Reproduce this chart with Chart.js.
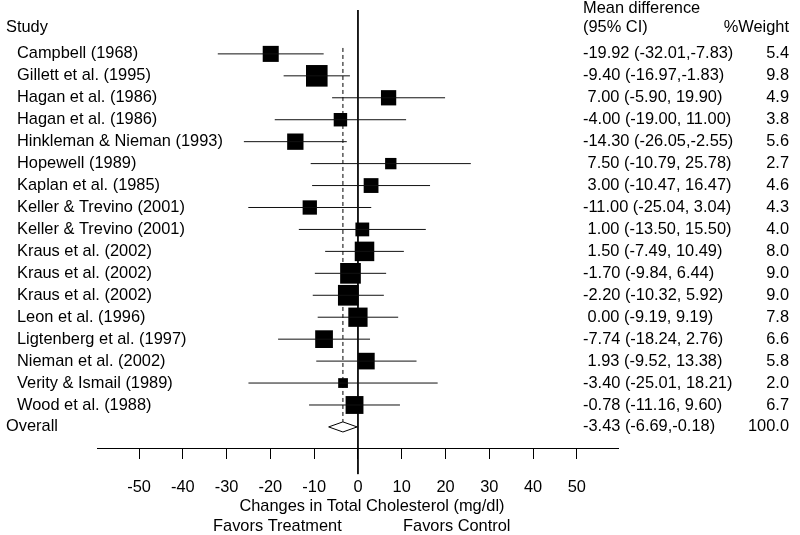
<!DOCTYPE html>
<html>
<head>
<meta charset="utf-8">
<script src="https://cdn.jsdelivr.net/npm/chart.js@4.4.1/dist/chart.umd.min.js"></script>
<style>
html,body{margin:0;padding:0;background:#fff;}
#wrap{width:800px;height:535px;position:relative;}
</style>
</head>
<body>
<div id="wrap"><canvas id="c" width="800" height="535"></canvas></div>
<script>
const studies = ["Campbell (1968)","Gillett et al. (1995)","Hagan et al. (1986)","Hagan et al. (1986)","Hinkleman & Nieman (1993)","Hopewell (1989)","Kaplan et al. (1985)","Keller & Trevino (2001)","Keller & Trevino (2001)","Kraus et al. (2002)","Kraus et al. (2002)","Kraus et al. (2002)","Leon et al. (1996)","Ligtenberg et al. (1997)","Nieman et al. (2002)","Verity & Ismail (1989)","Wood et al. (1988)"];
const means = [-19.92,-9.40,7.00,-4.00,-14.30,7.50,3.00,-11.00,1.00,1.50,-1.70,-2.20,0.00,-7.74,1.93,-3.40,-0.78];
const lows  = [-32.01,-16.97,-5.90,-19.00,-26.05,-10.79,-10.47,-25.04,-13.50,-7.49,-9.84,-10.32,-9.19,-18.24,-9.52,-25.01,-11.16];
const highs = [-7.83,-1.83,19.90,11.00,-2.55,25.78,16.47,3.04,15.50,10.49,6.44,5.92,9.19,2.76,13.38,18.21,9.60];
const weights = [5.4,9.8,4.9,3.8,5.6,2.7,4.6,4.3,4.0,8.0,9.0,9.0,7.8,6.6,5.8,2.0,6.7];
const overallLabel = "Overall";
const overallMean = -3.43, overallLow = -6.69, overallHigh = -0.18, overallWeight = 100.0;
const xTicks = [-50,-40,-30,-20,-10,0,10,20,30,40,50];
const xTitle = "Changes in Total Cholesterol (mg/dl)";
const favorLeft = "Favors Treatment", favorRight = "Favors Control";

const FSIZE = 16.4;
const FONT = FSIZE + 'px "Liberation Sans", Arial, Helvetica, sans-serif';
const nRows = studies.length;
const overallRow = nRows + 1;

function fmtSigned(v){ return (v < 0 ? '' : ' ') + v.toFixed(2); }
function ciText(m,l,h){ return fmtSigned(m) + ' (' + l.toFixed(2) + ',' + fmtSigned(h) + ')'; }

// CI segments with gaps
const ciData = [];
studies.forEach((s,i)=>{
  ciData.push({x:lows[i], y:i+1});
  ciData.push({x:highs[i], y:i+1});
  ciData.push({x:null, y:null});
});
const boxData = means.map((m,i)=>({x:m, y:i+1}));
const dh = 0.23;
const diamond = [
  {x:overallLow, y:overallRow},
  {x:overallMean, y:overallRow-dh},
  {x:overallHigh, y:overallRow},
  {x:overallMean, y:overallRow+dh},
  {x:overallLow, y:overallRow}
];

const textPlugin = {
  id:'texts',
  afterDraw(chart){
    const ctx = chart.ctx, y = chart.scales.y, x = chart.scales.x;
    ctx.save();
    ctx.font = FONT;
    ctx.fillStyle = '#000';
    ctx.textBaseline = 'middle';
    ctx.textAlign = 'left';
    const r0 = y.getPixelForValue(0);
    ctx.fillText('Study', 6, r0 - 4);
    ctx.fillText('Mean difference', 583, r0 - 23);
    ctx.fillText('(95% CI)', 583, r0 - 4);
    ctx.textAlign = 'right';
    ctx.fillText('%Weight', 789, r0 - 4);
    studies.forEach((s,i)=>{
      const py = y.getPixelForValue(i+1);
      ctx.textAlign = 'left';
      ctx.fillText(s, 17, py);
      ctx.fillText(ciText(means[i],lows[i],highs[i]), 583, py);
      ctx.textAlign = 'right';
      ctx.fillText(weights[i].toFixed(1), 789, py);
    });
    const po = y.getPixelForValue(overallRow);
    ctx.textAlign = 'left';
    ctx.fillText(overallLabel, 6, po);
    ctx.fillText(ciText(overallMean,overallLow,overallHigh), 583, po);
    ctx.textAlign = 'right';
    ctx.fillText(overallWeight.toFixed(1), 789, po);
    // axis titles
    ctx.textAlign = 'center';
    ctx.fillText(xTitle, x.getPixelForValue(0) + 14, 506);
    ctx.textAlign = 'left';
    ctx.fillText(favorLeft, 213, 526);
    ctx.fillText(favorRight, 403, 526);
    ctx.restore();
  }
};

new Chart(document.getElementById('c'), {
  type:'scatter',
  data:{
    datasets:[
      { data: ciData, showLine:true, borderColor:'#111', borderWidth:1, pointRadius:0, spanGaps:false },
      { data: boxData, pointStyle:'rect', backgroundColor:'#000', borderWidth:0,
        pointRadius: (ctx)=> 4.88*Math.sqrt(weights[ctx.dataIndex] || 0) },
      { data: [{x:0,y:-1},{x:0,y:20.15}], showLine:true, borderColor:'#000', borderWidth:1, pointRadius:0, clip:false },
      { data: [{x:overallMean,y:0.73},{x:overallMean,y:overallRow-dh}], showLine:true, borderColor:'#000', borderWidth:1, borderDash:[4,3], pointRadius:0 },
      { data: diamond, showLine:true, borderColor:'#000', borderWidth:1, pointRadius:0, backgroundColor:'#fff', fill:false }
    ]
  },
  options:{
    responsive:false,
    animation:false,
    events:[],
    layout:{ autoPadding:false, padding:{ left:97, right:182, top:10, bottom:0 } },
    plugins:{ legend:{display:false}, tooltip:{enabled:false} },
    scales:{
      x:{
        type:'linear', min:-59.6, max:59.4,
        afterBuildTicks(scale){ scale.ticks = xTicks.map(v=>({value:v})); },
        afterFit(scale){ scale.height = 87; },
        grid:{ drawOnChartArea:false, drawTicks:true, tickLength:11, tickColor:'#000', tickWidth:1 },
        border:{ display:true, color:'#000', width:1 },
        ticks:{ color:'#000', font:{ family:'"Liberation Sans", Arial, sans-serif', size:FSIZE }, padding:19, maxRotation:0, autoSkip:false }
      },
      y:{
        type:'linear', reverse:true, min:-1, max:18.96, display:false
      }
    }
  },
  plugins:[textPlugin]
});
</script>
</body>
</html>
